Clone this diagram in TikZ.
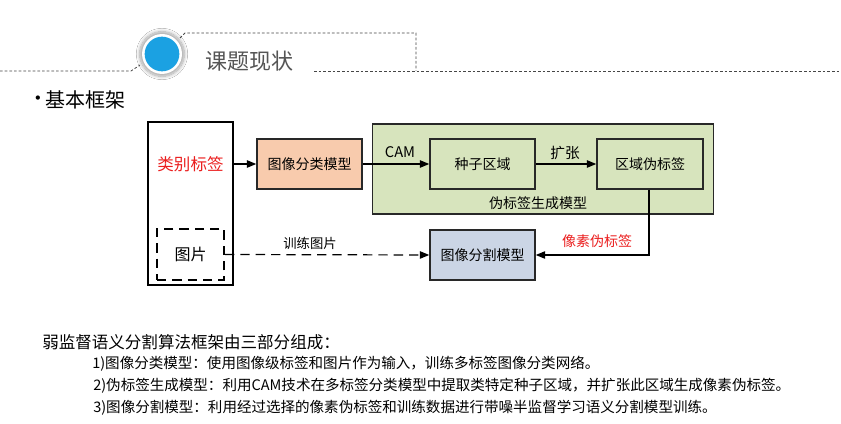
\documentclass[tikz,border=0pt]{standalone}
\usepackage{fontspec}
\setmainfont{Noto Sans CJK SC}
\newfontfamily\symfont{DejaVu Sans}
\usetikzlibrary{arrows.meta,shadows.blur}
\definecolor{hdrblue}{RGB}{27,161,226}
\definecolor{hdrline}{RGB}{70,70,70}
\definecolor{titlegray}{RGB}{85,85,85}
\definecolor{peach}{RGB}{248,203,173}
\definecolor{leaf}{RGB}{215,228,189}
\definecolor{slate}{RGB}{203,213,229}
\definecolor{boxedge}{RGB}{40,40,40}
\definecolor{redtxt}{RGB}{235,30,30}
\begin{document}
\begin{tikzpicture}[x=0.75pt,y=-0.75pt,
  hdr/.style={draw=hdrline,line width=0.6pt,dash pattern=on 2pt off 1.5pt},
  block/.style={draw=boxedge,line width=1.1pt,minimum width=78.75pt,minimum height=37.5pt,
    inner sep=0pt,font=\fontsize{10.5}{12}\selectfont},
  flow/.style={line width=0.9pt,-{Triangle[length=7pt,width=5.5pt]}},
  txt/.style={inner sep=0pt,anchor=west}]
\useasboundingbox (0,0) rectangle (841,424);
\fill[white] (0,0) rectangle (841,424);

% section header
\draw[hdr] (0,71) -- (131,71) -- (140,65);
\draw[hdr] (180,38) -- (185,33) -- (416,33) -- (416,71);
\draw[hdr] (314,71) -- (841,71);
\node[circle,fill=white,minimum size=30pt,inner sep=0pt,
  blur shadow={shadow xshift=0pt,shadow yshift=0pt,shadow scale=1.12,shadow blur steps=10,shadow opacity=35}]
  (ring) at (162,54) {};
\node[circle,fill=hdrblue,minimum size=26pt,inner sep=0pt] (dot) at (ring.center) {};
\node[inner sep=0pt,text=titlegray,font=\fontsize{16.5}{19}\selectfont] (title) at (249,61) {课题现状};
\node[inner sep=0pt,font=\symfont\fontsize{11}{13}\selectfont] (bullet) at (38,100) {•};
\node[txt,font=\fontsize{15}{18}\selectfont] (sub) at (45,100) {基本框架};

% inputs
\node[draw=black,line width=1.7pt,minimum width=63.75pt,minimum height=122.25pt,inner sep=0pt] (input) at (190.5,203.5) {};
\node[inner sep=0pt,text=redtxt,font=\fontsize{12.4}{14}\selectfont] (cls) at (190.5,164) {类别标签};
\node[draw=black,line width=1.5pt,dash pattern=on 7pt off 4.5pt,minimum width=50.25pt,minimum height=38.25pt,
  inner sep=0pt,font=\fontsize{12}{14}\selectfont] (img) at (190.5,254.5) {图片};

% models
\node[block,fill=peach] (clsnet) at (309.5,164) {图像分类模型};
\node[draw=boxedge,line width=1.1pt,fill=leaf,minimum width=255.75pt,minimum height=67.5pt,inner sep=0pt] (gen) at (543,169) {};
\node[block,fill=leaf] (seed) at (482.5,164) {种子区域};
\node[block,fill=leaf,minimum width=79.5pt] (region) at (650,164) {区域伪标签};
\node[inner sep=0pt,font=\fontsize{10.5}{12}\selectfont] (genlbl) at (538,203) {伪标签生成模型};
\node[block,fill=slate] (seg) at (482.5,255) {图像分割模型};

% connectors
\draw[flow] (input.east |- cls) -- (clsnet.west);
\draw[flow] (clsnet.east) -- (seed.west);
\node[inner sep=0pt,font=\fontsize{11}{13}\selectfont] (cam) at (400,152) {CAM};
\draw[flow] (seed.east) -- (region.west);
\node[inner sep=0pt,font=\fontsize{11}{13}\selectfont] (expand) at (565,153) {扩张};
\draw[flow] ([xshift=-0.75pt]region.south) |- (seg.east);
\node[inner sep=0pt,text=redtxt,font=\fontsize{10.5}{12}\selectfont] (pix) at (597,241) {像素伪标签};
\draw[flow,dash pattern=on 7pt off 4.5pt] (img.east) -- (seg.west);
\node[inner sep=0pt,font=\fontsize{10}{12}\selectfont] (train) at (310,243) {训练图片};

% summary text
\node[txt,font=\fontsize{12.4}{15}\selectfont] (sum) at (42,342) {弱监督语义分割算法框架由三部分组成：};
\node[txt,font=\fontsize{10.9}{13}\selectfont] (s1) at (92,364) {1)图像分类模型：使用图像级标签和图片作为输入，训练多标签图像分类网络。};
\node[txt,font=\fontsize{10.9}{13}\selectfont] (s2) at (93,386) {2)伪标签生成模型：利用CAM技术在多标签分类模型中提取类特定种子区域，并扩张此区域生成像素伪标签。};
\node[txt,font=\fontsize{10.9}{13}\selectfont] (s3) at (93,408) {3)图像分割模型：利用经过选择的像素伪标签和训练数据进行带噪半监督学习语义分割模型训练。};
\end{tikzpicture}
\end{document}
